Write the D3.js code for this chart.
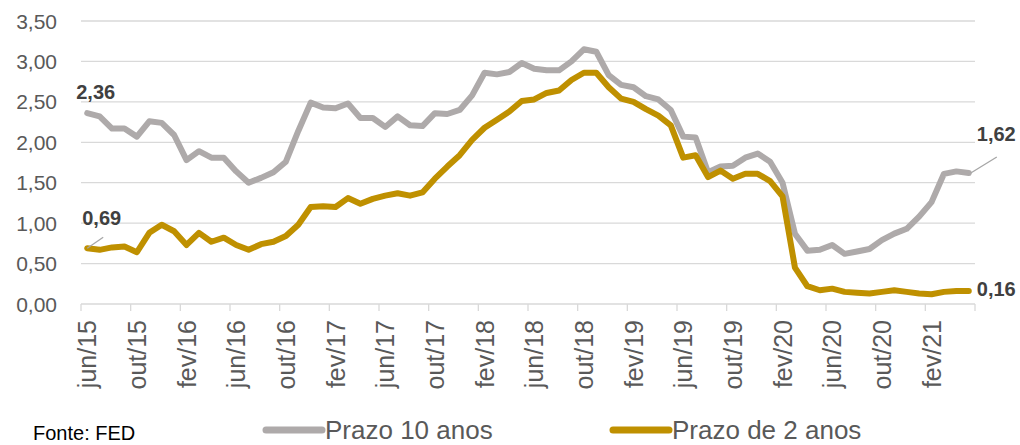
<!DOCTYPE html>
<html>
<head>
<meta charset="utf-8">
<script src="https://cdn.jsdelivr.net/npm/d3@7"></script>
<style>
  body { margin: 0; background: #fff; }
  svg { display: block; }
</style>
</head>
<body>
<div id="chart"></div>
<script>
// categorias mensais jun/15 .. mai/21
var monthNames = ["jan", "fev", "mar", "abr", "mai", "jun", "jul", "ago", "set", "out", "nov", "dez"];
var months = [];
(function () {
    var m = 5, y = 15;
    for (var i = 0; i < 72; i++) {
        months.push(monthNames[m] + "/" + y);
        m++;
        if (m > 11) { m = 0; y++; }
    }
})();

// Prazo 10 anos
var prazo10 = [
    2.36, 2.32, 2.17, 2.17, 2.07, 2.26, 2.24,
    2.09, 1.78, 1.89, 1.81, 1.81, 1.64, 1.50, 1.56, 1.63, 1.76, 2.14, 2.49,
    2.43, 2.42, 2.48, 2.30, 2.30, 2.19, 2.32, 2.21, 2.20, 2.36, 2.35, 2.40,
    2.58, 2.86, 2.84, 2.87, 2.98, 2.91, 2.89, 2.89, 3.00, 3.15, 3.12, 2.83,
    2.71, 2.68, 2.57, 2.53, 2.40, 2.07, 2.06, 1.63, 1.70, 1.71, 1.81, 1.86,
    1.76, 1.50, 0.87, 0.66, 0.67, 0.73, 0.62, 0.65, 0.68, 0.79, 0.87, 0.93,
    1.08, 1.26, 1.61, 1.64, 1.62
];

// Prazo de 2 anos
var prazo2 = [
    0.69, 0.67, 0.70, 0.71, 0.64, 0.88, 0.98,
    0.90, 0.73, 0.88, 0.77, 0.82, 0.73, 0.67, 0.74, 0.77, 0.84, 0.98, 1.20,
    1.21, 1.20, 1.31, 1.24, 1.30, 1.34, 1.37, 1.34, 1.38, 1.55, 1.70, 1.84,
    2.03, 2.18, 2.28, 2.38, 2.51, 2.53, 2.61, 2.64, 2.77, 2.86, 2.86, 2.68,
    2.54, 2.50, 2.41, 2.33, 2.21, 1.81, 1.84, 1.57, 1.65, 1.55, 1.61, 1.61,
    1.52, 1.33, 0.45, 0.22, 0.17, 0.19, 0.15, 0.14, 0.13, 0.15, 0.17, 0.15,
    0.13, 0.12, 0.15, 0.16, 0.16
];

var yTicks = [0, 0.5, 1, 1.5, 2, 2.5, 3, 3.5];

var width = 1020, height = 445;
var margin = {top: 21, right: 45, bottom: 141, left: 81};

var svg = d3.select("#chart").append("svg")
    .attr("width", width)
    .attr("height", height);

var x = d3.scaleBand()
    .domain(d3.range(months.length))
    .range([margin.left, width - margin.right])
    .padding(0);

var y = d3.scaleLinear()
    .domain([0, 3.5])
    .range([height - margin.bottom, margin.top]);

var fmt = function (v) { return d3.format(".2f")(v).replace(".", ","); };
var cx = function (i) { return x(i) + x.bandwidth() / 2; };

/* grade */
svg.append("g")
    .selectAll("line")
    .data(yTicks)
    .enter().append("line")
    .attr("x1", margin.left)
    .attr("x2", width - margin.right)
    .attr("y1", function (d) { return y(d); })
    .attr("y2", function (d) { return y(d); })
    .attr("stroke", "#d9d9d9")
    .attr("stroke-width", 1.3);

/* eixo y */
svg.append("g")
    .selectAll("text")
    .data(yTicks)
    .enter().append("text")
    .attr("x", 57)
    .attr("y", function (d) { return y(d); })
    .attr("dy", "0.36em")
    .attr("text-anchor", "end")
    .attr("font-family", "Liberation Sans, Arial, sans-serif")
    .attr("font-size", 21)
    .attr("fill", "#595959")
    .text(fmt);

/* eixo x: marcas a cada 4 meses, rótulos no centro da categoria */
var tickIdx = d3.range(0, months.length + 1, 4);
var xAxis = svg.append("g");
xAxis.selectAll("line")
    .data(tickIdx)
    .enter().append("line")
    .attr("x1", function (i) { return margin.left + i * x.step(); })
    .attr("x2", function (i) { return margin.left + i * x.step(); })
    .attr("y1", y(0))
    .attr("y2", y(0) + 7)
    .attr("stroke", "#d9d9d9")
    .attr("stroke-width", 1.3);

xAxis.selectAll("text")
    .data(tickIdx.filter(function (i) { return i < months.length; }))
    .enter().append("text")
    .attr("transform", function (i) { return "translate(" + cx(i) + "," + (y(0) + 16) + ") rotate(-90)"; })
    .attr("dy", "0.36em")
    .attr("text-anchor", "end")
    .attr("font-family", "Liberation Sans, Arial, sans-serif")
    .attr("font-size", 25)
    .attr("fill", "#595959")
    .text(function (i) { return months[i]; });

/* linhas */
var line = d3.line()
    .x(function (d, i) { return cx(i); })
    .y(function (d) { return y(d); });

var series = [
    {name: "Prazo 10 anos", values: prazo10, color: "#aeaaaa"},
    {name: "Prazo de 2 anos", values: prazo2, color: "#bf9000"}
];

svg.append("g")
    .selectAll("path")
    .data(series)
    .enter().append("path")
    .attr("d", function (s) { return line(s.values); })
    .attr("fill", "none")
    .attr("stroke", function (s) { return s.color; })
    .attr("stroke-width", 6)
    .attr("stroke-linejoin", "round")
    .attr("stroke-linecap", "round");

/* rótulos de dados */
var last = months.length - 1;
var labels = [
    {v: prazo10[0], i: 0, dx: -11, dy: -14},
    {v: prazo2[0], i: 0, dx: -5, dy: -23, leader: true},
    {v: prazo10[last], i: last, dx: 8, dy: -32, leader: true},
    {v: prazo2[last], i: last, dx: 8, dy: 5}
];

var lab = svg.append("g");
labels.forEach(function (l) {
    var px = cx(l.i), py = y(l.v);
    if (l.leader) {
        var lx = l.i === 0 ? px + 16 : px + 28;
        var ly = l.i === 0 ? py - 11 : py - 16;
        lab.append("line")
            .attr("x1", px + (l.i === 0 ? 0 : 2)).attr("y1", py)
            .attr("x2", lx).attr("y2", ly)
            .attr("stroke", "#a6a6a6")
            .attr("stroke-width", 1.3);
    }
    lab.append("text")
        .attr("x", px + l.dx)
        .attr("y", py + l.dy)
        .attr("font-family", "Liberation Sans, Arial, sans-serif")
        .attr("font-weight", "bold")
        .attr("font-size", 20)
        .attr("fill", "#404040")
        .text(fmt(l.v));
});

/* legenda */
var legX = [266, 613];
var leg = svg.append("g");
series.forEach(function (s, k) {
    leg.append("line")
        .attr("x1", legX[k]).attr("x2", legX[k] + 56)
        .attr("y1", 430).attr("y2", 430)
        .attr("stroke", s.color)
        .attr("stroke-width", 7)
        .attr("stroke-linecap", "round");
    leg.append("text")
        .attr("x", legX[k] + 59)
        .attr("y", 439)
        .attr("font-family", "Liberation Sans, Arial, sans-serif")
        .attr("font-size", 26)
        .attr("fill", "#595959")
        .text(s.name);
});

svg.append("text")
    .attr("x", 33)
    .attr("y", 440)
    .attr("font-family", "Liberation Sans, Arial, sans-serif")
    .attr("font-size", 20)
    .attr("fill", "#000")
    .text("Fonte: FED");
</script>
</body>
</html>
